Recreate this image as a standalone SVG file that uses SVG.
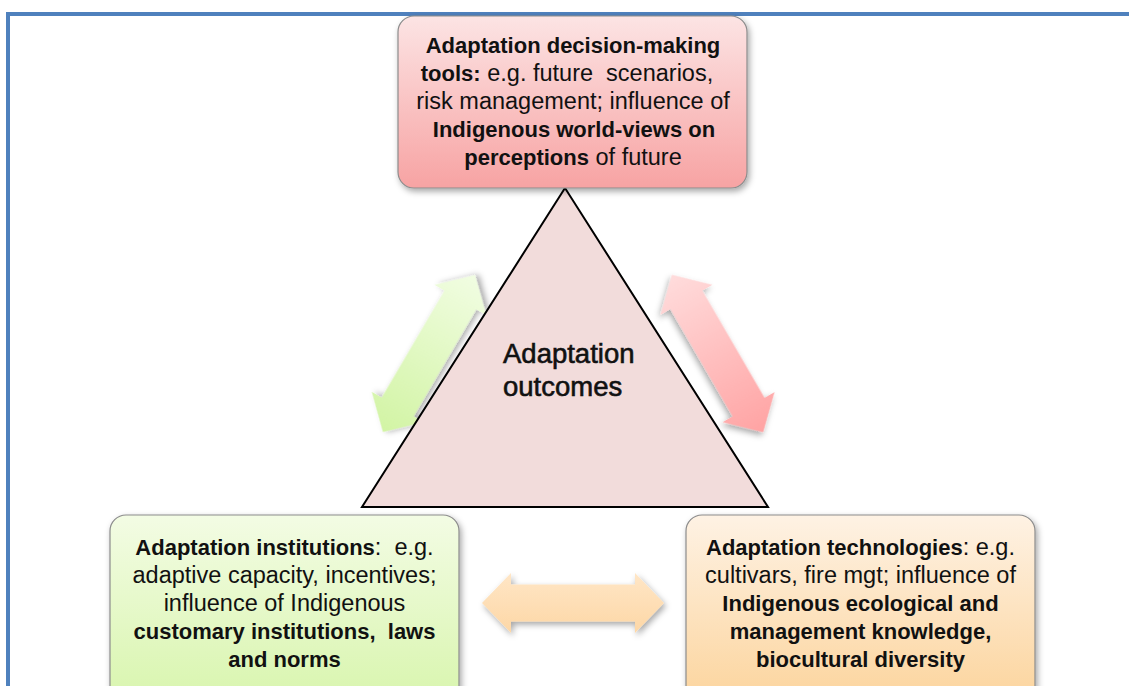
<svg xmlns="http://www.w3.org/2000/svg" width="1129" height="686" viewBox="0 0 1129 686">
<defs>
<style>
.t{font-family:"Liberation Sans",Arial,sans-serif;font-size:23.5px;fill:#111;text-anchor:middle;white-space:pre}
.b{font-weight:bold;font-size:22px}
.c{font-family:"Liberation Sans",Arial,sans-serif;font-size:27.5px;fill:#111;stroke:#111;stroke-width:0.6}
.box{stroke:#8c8c8c;stroke-width:1.2}
</style>
<filter id="sh" x="-20%" y="-20%" width="140%" height="140%">
<feDropShadow dx="2" dy="3" stdDeviation="3" flood-color="#000" flood-opacity="0.35"/>
</filter>
<linearGradient id="gTop" x1="0" y1="0" x2="0" y2="1">
<stop offset="0" stop-color="#fce4e4"/><stop offset="1" stop-color="#f7a3a3"/>
</linearGradient>
<linearGradient id="gLeft" x1="0" y1="0" x2="0" y2="1">
<stop offset="0" stop-color="#f3fce4"/><stop offset="1" stop-color="#d8f5ad"/>
</linearGradient>
<linearGradient id="gRight" x1="0" y1="0" x2="0" y2="1">
<stop offset="0" stop-color="#fef2e4"/><stop offset="1" stop-color="#fcd49c"/>
</linearGradient>
<linearGradient id="aGreen" gradientUnits="userSpaceOnUse" x1="-91" y1="0" x2="91" y2="0">
<stop offset="0" stop-color="#d2f4a4"/><stop offset="1" stop-color="#f1fde2"/>
</linearGradient>
<linearGradient id="aRed" gradientUnits="userSpaceOnUse" x1="-91" y1="0" x2="91" y2="0">
<stop offset="0" stop-color="#ffdcdc"/><stop offset="1" stop-color="#ffa3a3"/>
</linearGradient>
<linearGradient id="aOrange" x1="0" y1="0" x2="0" y2="1">
<stop offset="0" stop-color="#ffe6c6"/><stop offset="1" stop-color="#fdd7a6"/>
</linearGradient>
<path id="dbl" d="M -91 0 L -62 -30 L -62 -18.5 L 62 -18.5 L 62 -30 L 91 0 L 62 30 L 62 18.5 L -62 18.5 L -62 30 Z"/>
</defs>
<rect width="1129" height="686" fill="#fff"/>
<rect x="8" y="14" width="1140" height="700" fill="none" stroke="#4f81bd" stroke-width="4"/>

<g id="connectors">
<g transform="translate(429,353.5) rotate(-59.6)"><use href="#dbl" fill="url(#aGreen)" filter="url(#sh)"/></g>
<g transform="translate(717.5,353.5) rotate(59.9)"><use href="#dbl" fill="url(#aRed)" filter="url(#sh)"/></g>
<g transform="translate(573,603)"><use href="#dbl" fill="url(#aOrange)" filter="url(#sh)"/></g>
</g>

<g id="outcomes">
<polygon points="565,188 362,507 768,507" fill="#f2dcdb" stroke="#000" stroke-width="2"/>
<text class="c" x="503" y="363">Adaptation</text>
<text class="c" x="503" y="396">outcomes</text>
</g>

<g id="tools">
<rect class="box" x="398" y="16" width="349" height="172" rx="16" fill="url(#gTop)" filter="url(#sh)"/>
<text class="t" x="573" y="53"><tspan class="b">Adaptation decision-making</tspan></text>
<text class="t" x="567" y="81"><tspan class="b">tools:</tspan> e.g. future  scenarios,</text>
<text class="t" x="573" y="109">risk management; influence of</text>
<text class="t" x="574" y="137"><tspan class="b">Indigenous world-views on</tspan></text>
<text class="t" x="573" y="165"><tspan class="b">perceptions</tspan> of future</text>
</g>

<g id="institutions">
<rect class="box" x="110" y="515" width="349" height="190" rx="16" fill="url(#gLeft)" filter="url(#sh)"/>
<text class="t" x="284.5" y="555"><tspan class="b">Adaptation institutions</tspan>:  e.g.</text>
<text class="t" x="284.5" y="583">adaptive capacity, incentives;</text>
<text class="t" x="284.5" y="611">influence of Indigenous</text>
<text class="t" x="284.5" y="639"><tspan class="b">customary institutions,  laws</tspan></text>
<text class="t" x="284.5" y="667"><tspan class="b">and norms</tspan></text>
</g>

<g id="technologies">
<rect class="box" x="686" y="515" width="349" height="190" rx="16" fill="url(#gRight)" filter="url(#sh)"/>
<text class="t" x="860.5" y="555"><tspan class="b">Adaptation technologies</tspan>: e.g.</text>
<text class="t" x="860.5" y="583">cultivars, fire mgt; influence of</text>
<text class="t" x="860.5" y="611"><tspan class="b">Indigenous ecological and</tspan></text>
<text class="t" x="860.5" y="639"><tspan class="b">management knowledge,</tspan></text>
<text class="t" x="860.5" y="667"><tspan class="b">biocultural diversity</tspan></text>
</g>
</svg>
